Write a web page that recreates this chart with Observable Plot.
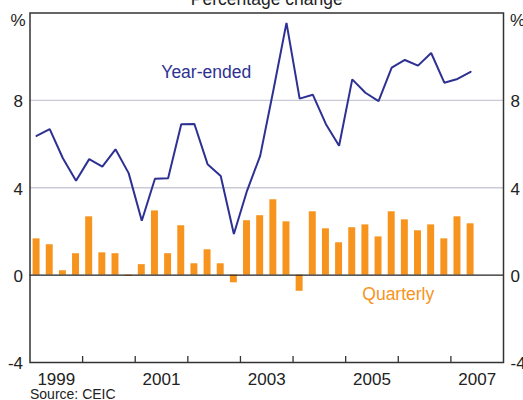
<!DOCTYPE html>
<html>
<head>
<meta charset="utf-8">
<script src="https://cdn.jsdelivr.net/npm/d3@7"></script>
<script src="https://cdn.jsdelivr.net/npm/@observablehq/plot@0.6"></script>
<style>
  html, body { margin: 0; padding: 0; background: #fff; }
</style>
</head>
<body>
<div id="chart"></div>
<script>
const quarters = [
  "1999-Q1","1999-Q2","1999-Q3","1999-Q4",
  "2000-Q1","2000-Q2","2000-Q3","2000-Q4",
  "2001-Q1","2001-Q2","2001-Q3","2001-Q4",
  "2002-Q1","2002-Q2","2002-Q3","2002-Q4",
  "2003-Q1","2003-Q2","2003-Q3","2003-Q4",
  "2004-Q1","2004-Q2","2004-Q3","2004-Q4",
  "2005-Q1","2005-Q2","2005-Q3","2005-Q4",
  "2006-Q1","2006-Q2","2006-Q3","2006-Q4",
  "2007-Q1","2007-Q2"
];
const quarterly = [
  1.66, 1.39, 0.20, 0.98, 2.67, 1.02, 0.98, -0.06, 0.48, 2.94,
  0.98, 2.26, 0.52, 1.16, 0.52, -0.35, 2.49, 2.72, 3.45, 2.44,
  -0.74, 2.90, 2.12, 1.48, 2.17, 2.30, 1.75, 2.90, 2.53, 2.03,
  2.30, 1.66, 2.67, 2.35
];
const yearEnded = [
  6.37, 6.68, 5.35, 4.32, 5.31, 4.97, 5.76, 4.67, 2.49, 4.41,
  4.44, 6.91, 6.92, 5.08, 4.54, 1.88, 3.86, 5.46, 8.45, 11.55,
  8.08, 8.26, 6.91, 5.92, 8.96, 8.35, 7.97, 9.50, 9.85, 9.59,
  10.17, 8.81, 8.98, 9.31
];
const yTicks = [-4, 0, 4, 8];
const gridValues = [4, 8];
const yearBoundaries = [2000, 2001, 2002, 2003, 2004, 2005, 2006, 2007];
const yearLabels = [1999, 2001, 2003, 2005, 2007];
const title = "Percentage change";
const source = "Source: CEIC";

const navy = "#2e3192";
const orange = "#f7941d";

// quarter start as fractional year
const qStart = q => +q.slice(0, 4) + (+q.slice(6) - 1) / 4;
const data = quarters.map((q, i) => ({
  t0: qStart(q),
  t1: qStart(q) + 0.25,
  tm: qStart(q) + 0.125,
  quarterly: quarterly[i],
  yearEnded: yearEnded[i]
}));

const chart = Plot.plot({
  width: 523,
  height: 400,
  marginLeft: 29.5,
  marginRight: 20,
  marginTop: 12.5,
  marginBottom: 38,
  style: {
    fontFamily: "'Liberation Sans', Arial, sans-serif",
    fontSize: "17px",
    color: "#222",
    background: "#fff",
    overflow: "hidden"
  },
  x: { domain: [1999, 2008] },
  y: { domain: [-4, 12] },
  marks: [
    Plot.ruleY(gridValues, { stroke: "#c9c9d8", strokeWidth: 1.3 }),
    Plot.rectY(data, {
      x1: "t0", x2: "t1", y1: 0, y2: "quarterly",
      fill: orange, insetLeft: 3.1, insetRight: 3.1
    }),
    Plot.ruleY([0], { stroke: "#222", strokeWidth: 1.3 }),
    Plot.line(data, {
      x: "tm", y: "yearEnded", stroke: navy, strokeWidth: 2,
      strokeLinejoin: "miter"
    }),
    Plot.frame({ stroke: "#333", strokeWidth: 1.5 }),
    Plot.axisY({
      anchor: "left", ticks: yTicks, tickSize: 0, tickPadding: 7,
      tickFormat: d => String(d), fontSize: 17, dy: 1.5, label: null
    }),
    Plot.axisY({
      anchor: "right", ticks: yTicks, tickSize: 0, tickPadding: 7,
      tickFormat: d => String(d), fontSize: 17, dy: 1.5, label: null
    }),
    Plot.text(["%"], {
      frameAnchor: "top-left", dx: -4.5, dy: 8, textAnchor: "end",
      lineAnchor: "middle", fontSize: 17
    }),
    Plot.text(["%"], {
      frameAnchor: "top-right", dx: 6.5, dy: 8, textAnchor: "start",
      lineAnchor: "middle", fontSize: 17
    }),
    Plot.axisX({
      anchor: "bottom", ticks: yearBoundaries, tickSize: 6, dy: -6,
      tickFormat: () => "", label: null, stroke: "#333", strokeWidth: 1.3
    }),
    Plot.axisX({
      anchor: "bottom", ticks: yearLabels.map(y => y + 0.5), tickSize: 0,
      tickPadding: 10, tickFormat: d => String(Math.floor(d)),
      fontSize: 17, label: null
    }),
    Plot.text([title], {
      frameAnchor: "top", dy: -8, lineAnchor: "bottom", fontSize: 17.5
    }),
    Plot.text([source], {
      frameAnchor: "bottom-left", dy: 36.5, lineAnchor: "bottom",
      textAnchor: "start", fontSize: 14
    }),
    Plot.text(["Year-ended"], {
      x: [2002.35], y: [9.3], fill: navy, fontSize: 17.5,
      lineAnchor: "middle", textAnchor: "middle"
    }),
    Plot.text(["Quarterly"], {
      x: [2006.0], y: [-0.87], fill: orange, fontSize: 17.5,
      lineAnchor: "middle", textAnchor: "middle"
    })
  ]
});
document.getElementById("chart").appendChild(chart);
</script>
</body>
</html>
